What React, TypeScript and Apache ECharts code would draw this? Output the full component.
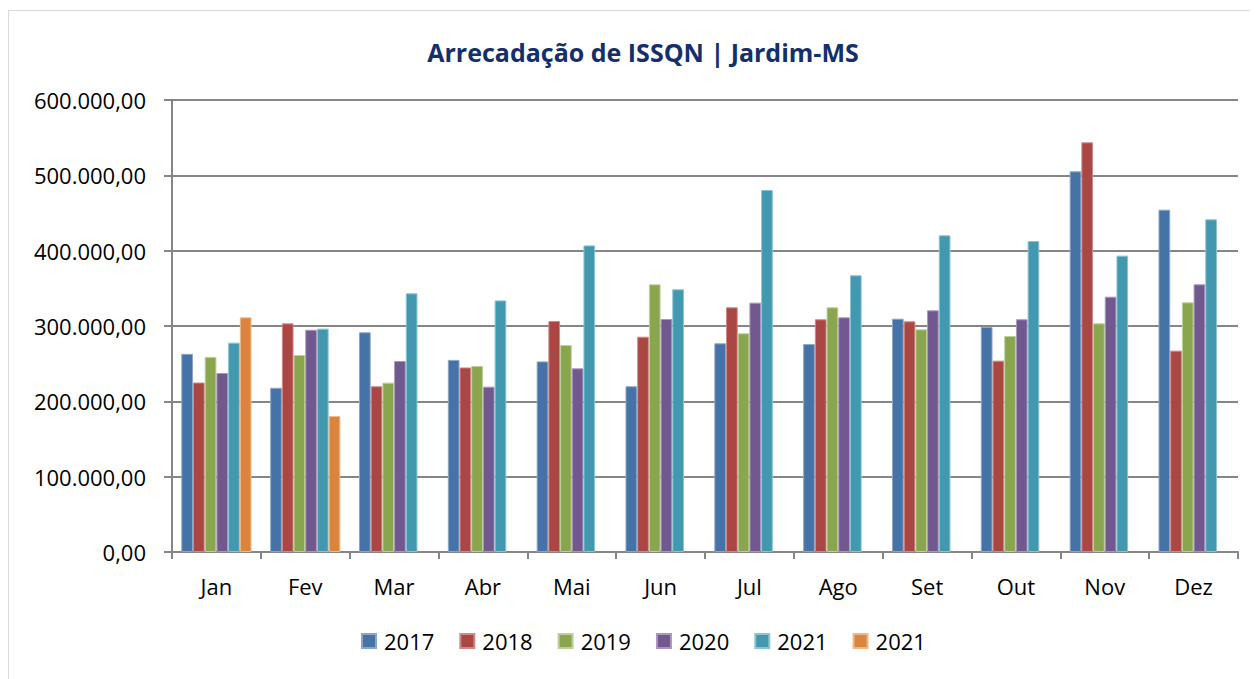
import React, { useEffect, useRef } from "react";
import * as echarts from "echarts";

const months = ["Jan", "Fev", "Mar", "Abr", "Mai", "Jun", "Jul", "Ago", "Set", "Out", "Nov", "Dez"];
const seriesNames = ["2017", "2018", "2019", "2020", "2021", "2021 "];
const v2017 = [263000, 218000, 291600, 255000, 253000, 220000, 277000, 276000, 309700, 298700, 505300, 454400];
const v2018 = [225000, 303500, 220000, 245000, 306600, 285800, 324800, 308900, 306200, 254000, 543800, 267300];
const v2019 = [259000, 261500, 224800, 247000, 274800, 355300, 290300, 324800, 295600, 286700, 303500, 331400];
const v2020 = [237600, 295000, 253500, 219500, 243800, 309300, 331000, 311500, 320800, 308900, 338900, 355300];
const v2021 = [277900, 296500, 343400, 334000, 407000, 348700, 480500, 367300, 420400, 412800, 393400, 441600];
const v2021b = [311500, 180500, null, null, null, null, null, null, null, null, null, null];
const colors = ["#4572A7", "#AA4643", "#89A54E", "#71588F", "#4198AF", "#DB843D"];
const borders = ["#8aa6c9", "#cf8a88", "#bcd09a", "#a898bd", "#8cc4d4", "#efb88a"];

const FONT = "'Open Sans', sans-serif";

function fmt(v: number): string {
  const int = Math.round(v).toString().replace(/\B(?=(\d{3})+(?!\d))/g, ".");
  return int + ",00";
}

export default function App() {
  const ref = useRef<HTMLDivElement>(null);
  useEffect(() => {
    if (!ref.current) return;
    const chart = echarts.init(ref.current, undefined, { renderer: "svg" });
    const all = [v2017, v2018, v2019, v2020, v2021, v2021b];
    chart.setOption({
      animation: false,
      title: {
        text: "Arrecadação de ISSQN | Jardim-MS",
        left: 630,
        top: 26,
        textAlign: "center",
        textStyle: { fontFamily: FONT, fontWeight: "bold", fontSize: 25, color: "#142f6b" },
      },
      legend: {
        data: seriesNames,
        bottom: 22,
        left: 348,
        itemWidth: 14,
        itemHeight: 14,
        itemGap: 25,
        icon: "rect",
        textStyle: { fontFamily: FONT, fontSize: 22, color: "#000", padding: [0, 0, 0, 3] },
      },
      grid: { left: 164, right: 20, top: 92, bottom: 127, containLabel: false },
      xAxis: {
        type: "category",
        data: months,
        axisLine: { lineStyle: { color: "#868686", width: 2 } },
        axisTick: { show: true, length: 7, lineStyle: { color: "#868686", width: 2 } },
        axisLabel: { fontFamily: FONT, fontSize: 22, color: "#000", margin: 23 },
      },
      yAxis: {
        type: "value",
        min: 0,
        max: 600000,
        interval: 100000,
        axisLine: { show: true, lineStyle: { color: "#868686", width: 2 } },
        axisTick: { show: true, length: 8, lineStyle: { color: "#868686", width: 2 } },
        splitLine: { lineStyle: { color: "#868686", width: 2 } },
        axisLabel: { fontFamily: FONT, fontSize: 22, color: "#000", margin: 26, formatter: (v: number) => fmt(v) },
      },
      series: seriesNames.map((n, i) => ({
        name: n,
        type: "bar",
        data: all[i],
        barGap: "0%",
        barCategoryGap: "21%",
        itemStyle: { color: colors[i], borderColor: borders[i], borderWidth: 1 },
      })),
    });
    return () => chart.dispose();
  }, []);
  return (
    <div style={{ position: "relative", width: 1250, height: 671, overflow: "hidden" }}>
      <div
        style={{
          position: "absolute",
          left: 0,
          top: 2,
          width: 1300,
          height: 700,
          borderLeft: "1px solid #d9d9d9",
          borderTop: "1px solid #d9d9d9",
          boxSizing: "border-box",
        }}
      />
      <div ref={ref} style={{ position: "absolute", left: 0, top: 0, width: 1250, height: 671 }} />
    </div>
  );
}
